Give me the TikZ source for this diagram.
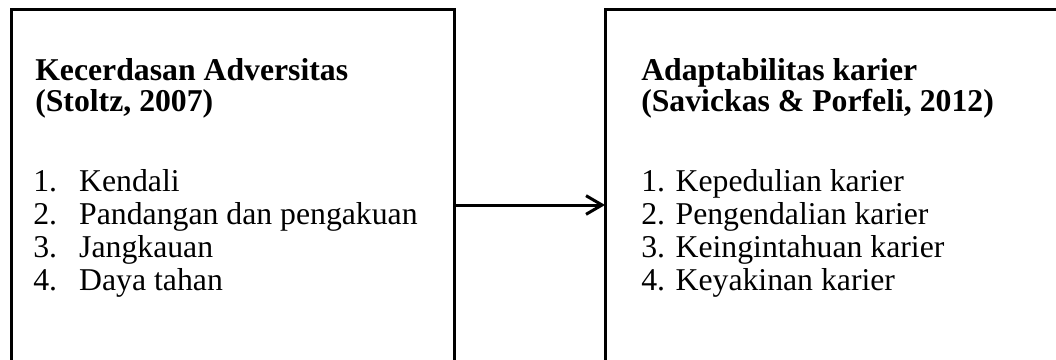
\documentclass[tikz,border=0pt]{standalone}
\usepackage{fontspec}
\setmainfont{Liberation Serif}
\usetikzlibrary{arrows.meta}
\begin{document}
\begin{tikzpicture}[x=0.75pt,y=-0.75pt,
  box/.style={draw, line width=2.25pt, outer sep=0pt, inner sep=0pt, anchor=north west},
  ttl/.style={anchor=base west, inner sep=0pt, font=\fontsize{23.8}{25}\selectfont\bfseries},
  item/.style={anchor=base west, inner sep=0pt, font=\fontsize{23.8}{25}\selectfont},
  conn/.style={line width=2.25pt, -{Straight Barb[length=12pt, width=14pt, line width=2.25pt]}}]
\useasboundingbox (0,0) rectangle (1056,360);
\fill[white] (0,0) rectangle (1056,360);
\clip (0,0) rectangle (1056,360);
% boxes
\node[box, minimum width=442.5*0.75pt, minimum height=390*0.75pt] (L) at (11.5,10) {};
\node[box, minimum width=500*0.75pt, minimum height=390*0.75pt] (R) at (605,10) {};
% arrow
\draw[conn] (L.east) -- (R.west);
% left text
\node[ttl] (lt1) at (35,80.5) {Kecerdasan Adversitas};
\node[ttl] (lt2) at (35,112) {(Stoltz, 2007)};
\node[item] (l1) at (33,191) {\makebox[34.5pt][l]{1.}Kendali};
\node[item] (l2) at (33,224) {\makebox[34.5pt][l]{2.}Pandangan dan pengakuan};
\node[item] (l3) at (33,257) {\makebox[34.5pt][l]{3.}Jangkauan};
\node[item] (l4) at (33,290) {\makebox[34.5pt][l]{4.}Daya tahan};
% right text
\node[ttl] (rt1) at (641,80.5) {Adaptabilitas karier};
\node[ttl] (rt2) at (641,112) {(Savickas \& Porfeli, 2012)};
\node[item] (r1) at (641,191) {1. Kepedulian karier};
\node[item] (r2) at (641,224) {2. Pengendalian karier};
\node[item] (r3) at (641,257) {3. Keingintahuan karier};
\node[item] (r4) at (641,290) {4. Keyakinan karier};
\end{tikzpicture}
\end{document}
